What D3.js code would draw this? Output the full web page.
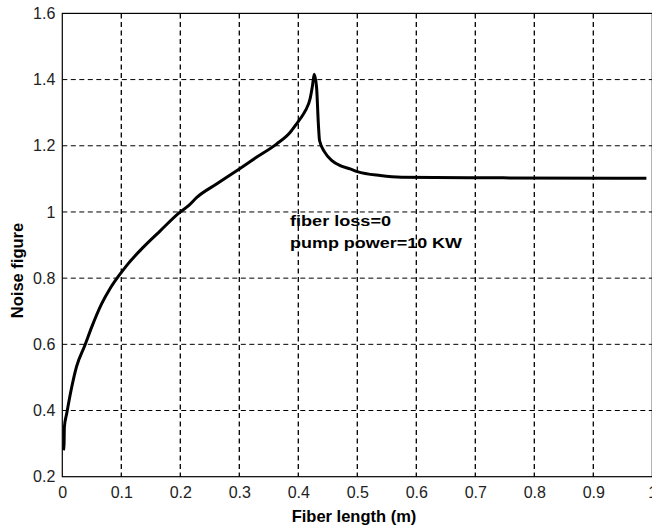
<!DOCTYPE html>
<html><head><meta charset="utf-8">
<script src="https://cdn.jsdelivr.net/npm/d3@7"></script>
<style>body{margin:0;background:#fff;}svg{display:block;}</style>
</head><body>
<script>
const fiberLength = [0.002,0.003,0.0035,0.0075,0.016,0.024,0.0385,0.0498,0.0668,0.0808,0.0978,0.109,0.137,0.166,0.198,0.214,0.228,0.262,0.300,0.329,0.363,0.386,0.397,0.403,0.412,0.420,0.424,0.427,0.431,0.434,0.436,0.445,0.457,0.471,0.488,0.500,0.539,0.575,0.747,0.99];
const noiseFigure = [0.28,0.30,0.35,0.391,0.471,0.532,0.598,0.652,0.723,0.768,0.812,0.838,0.893,0.943,0.997,1.019,1.044,1.085,1.13,1.165,1.205,1.240,1.266,1.281,1.306,1.342,1.381,1.416,1.376,1.266,1.216,1.180,1.155,1.140,1.130,1.122,1.110,1.105,1.103,1.102];
const xTicks = [0,0.1,0.2,0.3,0.4,0.5,0.6,0.7,0.8,0.9,1];
const yTicks = [0.2,0.4,0.6,0.8,1,1.2,1.4,1.6];
const annotation = ["fiber  loss=0","pump power=10 KW"];

const W=652,H=532;
const L=62.3,R=652.3,T=13.4,B=476.7;
const svg=d3.select("body").append("svg").attr("width",W).attr("height",H);
const x=d3.scaleLinear().domain([0,1]).range([L,R]);
const y=d3.scaleLinear().domain([0.2,1.6]).range([B,T]);
const font="Arial, 'Liberation Sans', sans-serif";

// grid
svg.append("g").selectAll("line").data(xTicks.filter(d=>d>0&&d<1)).join("line")
 .attr("x1",d=>x(d)).attr("x2",d=>x(d)).attr("y1",T).attr("y2",B)
 .attr("stroke","#000").attr("stroke-width",1.3).attr("stroke-dasharray","5,3.5");
svg.append("g").selectAll("line").data(yTicks.filter(d=>d>0.2&&d<1.6)).join("line")
 .attr("x1",L).attr("x2",R).attr("y1",d=>y(d)).attr("y2",d=>y(d))
 .attr("stroke","#000").attr("stroke-width",1).attr("stroke-dasharray","5,3.5");

// frame
svg.append("rect").attr("x",L).attr("y",T).attr("width",R-L).attr("height",B-T)
 .attr("fill","none").attr("stroke","#000").attr("stroke-width",1.2);

// axes labels via d3 axes
const xAxis=svg.append("g").attr("transform",`translate(0,${B})`)
 .call(d3.axisBottom(x).tickValues(xTicks).tickSize(0).tickPadding(10).tickFormat(d3.format("")));
xAxis.select(".domain").remove();
xAxis.selectAll("text").attr("font-family",font).attr("font-size",16).attr("fill","#222");
const yAxis=svg.append("g").attr("transform",`translate(${L},0)`)
 .call(d3.axisLeft(y).tickValues(yTicks).tickSize(0).tickPadding(7).tickFormat(d3.format("")));
yAxis.select(".domain").remove();
yAxis.selectAll("text").attr("font-family",font).attr("font-size",16).attr("fill","#222");

// curve
svg.append("path").datum(fiberLength.map((d,i)=>[d,noiseFigure[i]]))
 .attr("d",d3.line().curve(d3.curveMonotoneX).x(d=>x(d[0])).y(d=>y(d[1])))
 .attr("fill","none").attr("stroke","#000").attr("stroke-width",3).attr("stroke-linejoin","round");

// annotation
svg.append("text").attr("x",290).attr("y",226).attr("font-family",font).attr("font-weight","bold")
 .attr("font-size",14).attr("textLength",101).attr("lengthAdjust","spacingAndGlyphs").text(annotation[0]);
svg.append("text").attr("x",290).attr("y",247.5).attr("font-family",font).attr("font-weight","bold")
 .attr("font-size",14).attr("textLength",172).attr("lengthAdjust","spacingAndGlyphs").text(annotation[1]);

// axis titles
svg.append("text").attr("x",354).attr("y",521.5).attr("text-anchor","middle")
 .attr("font-family",font).attr("font-weight","bold").attr("font-size",16.5).text("Fiber length (m)");
svg.append("text").attr("transform","translate(22.5,270.5) rotate(-90)").attr("text-anchor","middle")
 .attr("font-family",font).attr("font-weight","bold").attr("font-size",16.5).text("Noise figure");
</script>
</body></html>
